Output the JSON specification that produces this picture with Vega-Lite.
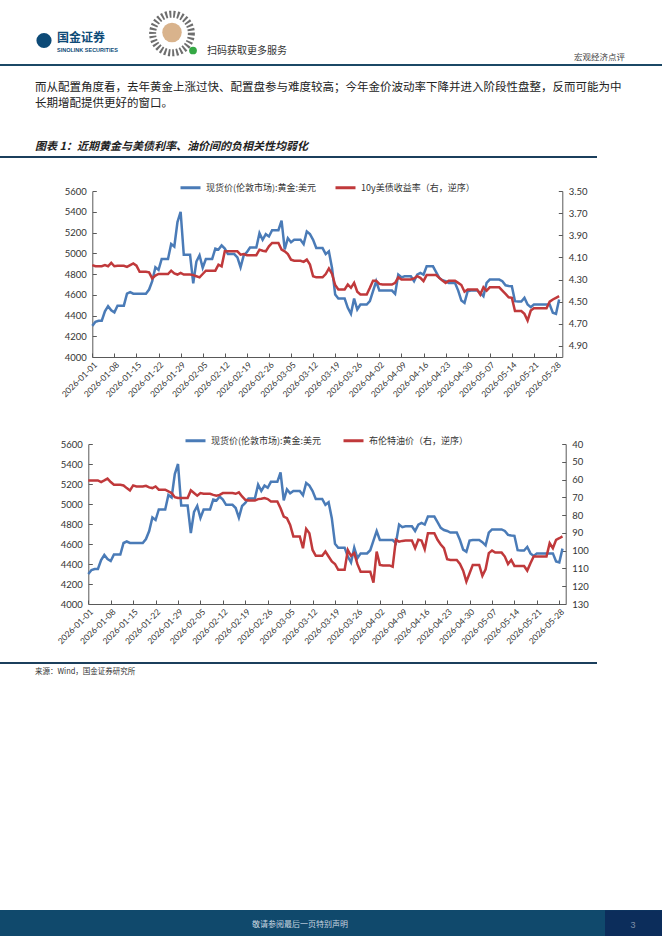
{
  "$schema": "https://vega.github.io/schema/vega-lite/v6.json",
  "background": "#ffffff",
  "padding": 0,
  "spacing": 0,
  "bounds": "flush",
  "datasets": {
    "prices": [
      {"date": "2026-01-01", "gold": 4300, "ust": 4.17, "brent": 60.5},
      {"date": "2026-01-02", "gold": 4340, "ust": 4.18, "brent": 60.5},
      {"date": "2026-01-03", "gold": 4350, "ust": 4.18, "brent": 60.5},
      {"date": "2026-01-04", "gold": 4350, "ust": 4.18, "brent": 60.5},
      {"date": "2026-01-05", "gold": 4440, "ust": 4.17, "brent": 61.4},
      {"date": "2026-01-06", "gold": 4490, "ust": 4.18, "brent": 60.5},
      {"date": "2026-01-07", "gold": 4450, "ust": 4.15, "brent": 59.5},
      {"date": "2026-01-08", "gold": 4430, "ust": 4.18, "brent": 61.4},
      {"date": "2026-01-09", "gold": 4495, "ust": 4.175, "brent": 62.9},
      {"date": "2026-01-10", "gold": 4495, "ust": 4.175, "brent": 62.9},
      {"date": "2026-01-11", "gold": 4495, "ust": 4.175, "brent": 62.9},
      {"date": "2026-01-12", "gold": 4610, "ust": 4.185, "brent": 63.3},
      {"date": "2026-01-13", "gold": 4625, "ust": 4.17, "brent": 64.8},
      {"date": "2026-01-14", "gold": 4610, "ust": 4.155, "brent": 66.1},
      {"date": "2026-01-15", "gold": 4610, "ust": 4.175, "brent": 63.3},
      {"date": "2026-01-16", "gold": 4610, "ust": 4.23, "brent": 63.9},
      {"date": "2026-01-17", "gold": 4610, "ust": 4.23, "brent": 63.9},
      {"date": "2026-01-18", "gold": 4610, "ust": 4.23, "brent": 63.9},
      {"date": "2026-01-19", "gold": 4650, "ust": 4.235, "brent": 63.5},
      {"date": "2026-01-20", "gold": 4730, "ust": 4.29, "brent": 64.4},
      {"date": "2026-01-21", "gold": 4865, "ust": 4.265, "brent": 64.8},
      {"date": "2026-01-22", "gold": 4840, "ust": 4.25, "brent": 63.9},
      {"date": "2026-01-23", "gold": 4945, "ust": 4.25, "brent": 65.7},
      {"date": "2026-01-24", "gold": 4945, "ust": 4.25, "brent": 65.7},
      {"date": "2026-01-25", "gold": 4945, "ust": 4.25, "brent": 65.7},
      {"date": "2026-01-26", "gold": 5090, "ust": 4.22, "brent": 66.7},
      {"date": "2026-01-27", "gold": 5065, "ust": 4.245, "brent": 67.6},
      {"date": "2026-01-28", "gold": 5300, "ust": 4.255, "brent": 69.9},
      {"date": "2026-01-29", "gold": 5400, "ust": 4.24, "brent": 70.4},
      {"date": "2026-01-30", "gold": 4985, "ust": 4.255, "brent": 70.4},
      {"date": "2026-01-31", "gold": 4985, "ust": 4.255, "brent": 70.4},
      {"date": "2026-02-01", "gold": 4985, "ust": 4.255, "brent": 70.4},
      {"date": "2026-02-02", "gold": 4710, "ust": 4.26, "brent": 66.1},
      {"date": "2026-02-03", "gold": 4920, "ust": 4.27, "brent": 67.6},
      {"date": "2026-02-04", "gold": 4980, "ust": 4.28, "brent": 69.1},
      {"date": "2026-02-05", "gold": 4860, "ust": 4.25, "brent": 67.6},
      {"date": "2026-02-06", "gold": 4945, "ust": 4.22, "brent": 68},
      {"date": "2026-02-07", "gold": 4945, "ust": 4.22, "brent": 68},
      {"date": "2026-02-08", "gold": 4945, "ust": 4.22, "brent": 68},
      {"date": "2026-02-09", "gold": 5045, "ust": 4.22, "brent": 68.6},
      {"date": "2026-02-10", "gold": 5035, "ust": 4.165, "brent": 69.1},
      {"date": "2026-02-11", "gold": 5075, "ust": 4.18, "brent": 68.6},
      {"date": "2026-02-12", "gold": 5045, "ust": 4.045, "brent": 67.6},
      {"date": "2026-02-13", "gold": 4992, "ust": 4.045, "brent": 67.6},
      {"date": "2026-02-14", "gold": 4992, "ust": 4.045, "brent": 67.6},
      {"date": "2026-02-15", "gold": 4992, "ust": 4.045, "brent": 67.6},
      {"date": "2026-02-16", "gold": 4960, "ust": 4.045, "brent": 68},
      {"date": "2026-02-17", "gold": 4864, "ust": 4.075, "brent": 67.2},
      {"date": "2026-02-18", "gold": 4980, "ust": 4.07, "brent": 69.5},
      {"date": "2026-02-19", "gold": 5010, "ust": 4.08, "brent": 71.4},
      {"date": "2026-02-20", "gold": 5056, "ust": 4.08, "brent": 71.8},
      {"date": "2026-02-21", "gold": 5056, "ust": 4.08, "brent": 71.8},
      {"date": "2026-02-22", "gold": 5056, "ust": 4.08, "brent": 71.8},
      {"date": "2026-02-23", "gold": 5194, "ust": 4.03, "brent": 71},
      {"date": "2026-02-24", "gold": 5130, "ust": 4.04, "brent": 70.8},
      {"date": "2026-02-25", "gold": 5184, "ust": 4.045, "brent": 70.4},
      {"date": "2026-02-26", "gold": 5162, "ust": 4.0, "brent": 71},
      {"date": "2026-02-27", "gold": 5222, "ust": 3.97, "brent": 72.3},
      {"date": "2026-02-28", "gold": 5222, "ust": 3.97, "brent": 72.3},
      {"date": "2026-03-01", "gold": 5222, "ust": 3.97, "brent": 72.3},
      {"date": "2026-03-02", "gold": 5315, "ust": 4.03, "brent": 76.1},
      {"date": "2026-03-03", "gold": 5037, "ust": 4.045, "brent": 80.8},
      {"date": "2026-03-04", "gold": 5146, "ust": 4.07, "brent": 81.7},
      {"date": "2026-03-05", "gold": 5107, "ust": 4.12, "brent": 85.5},
      {"date": "2026-03-06", "gold": 5130, "ust": 4.13, "brent": 92},
      {"date": "2026-03-07", "gold": 5130, "ust": 4.13, "brent": 92},
      {"date": "2026-03-08", "gold": 5130, "ust": 4.13, "brent": 92},
      {"date": "2026-03-09", "gold": 5088, "ust": 4.14, "brent": 98.6},
      {"date": "2026-03-10", "gold": 5210, "ust": 4.12, "brent": 87.7},
      {"date": "2026-03-11", "gold": 5184, "ust": 4.165, "brent": 90.2},
      {"date": "2026-03-12", "gold": 5130, "ust": 4.27, "brent": 99.6},
      {"date": "2026-03-13", "gold": 5050, "ust": 4.28, "brent": 102.9},
      {"date": "2026-03-14", "gold": 5050, "ust": 4.28, "brent": 102.9},
      {"date": "2026-03-15", "gold": 5050, "ust": 4.28, "brent": 102.9},
      {"date": "2026-03-16", "gold": 4992, "ust": 4.25, "brent": 100.5},
      {"date": "2026-03-17", "gold": 5018, "ust": 4.2, "brent": 103.3},
      {"date": "2026-03-18", "gold": 4858, "ust": 4.25, "brent": 106.1},
      {"date": "2026-03-19", "gold": 4602, "ust": 4.35, "brent": 107.5},
      {"date": "2026-03-20", "gold": 4563, "ust": 4.39, "brent": 110.8},
      {"date": "2026-03-21", "gold": 4563, "ust": 4.39, "brent": 110.8},
      {"date": "2026-03-22", "gold": 4563, "ust": 4.39, "brent": 110.8},
      {"date": "2026-03-23", "gold": 4474, "ust": 4.345, "brent": 99.6},
      {"date": "2026-03-24", "gold": 4416, "ust": 4.375, "brent": 102.9},
      {"date": "2026-03-25", "gold": 4563, "ust": 4.33, "brent": 101.4},
      {"date": "2026-03-26", "gold": 4458, "ust": 4.41, "brent": 107.6},
      {"date": "2026-03-27", "gold": 4506, "ust": 4.435, "brent": 111.8},
      {"date": "2026-03-28", "gold": 4506, "ust": 4.435, "brent": 111.8},
      {"date": "2026-03-29", "gold": 4506, "ust": 4.435, "brent": 111.8},
      {"date": "2026-03-30", "gold": 4538, "ust": 4.375, "brent": 111.8},
      {"date": "2026-03-31", "gold": 4634, "ust": 4.31, "brent": 118},
      {"date": "2026-04-01", "gold": 4730, "ust": 4.31, "brent": 100.5},
      {"date": "2026-04-02", "gold": 4640, "ust": 4.34, "brent": 108},
      {"date": "2026-04-03", "gold": 4640, "ust": 4.345, "brent": 108.3},
      {"date": "2026-04-04", "gold": 4640, "ust": 4.345, "brent": 108.3},
      {"date": "2026-04-05", "gold": 4640, "ust": 4.345, "brent": 108.3},
      {"date": "2026-04-06", "gold": 4640, "ust": 4.345, "brent": 109},
      {"date": "2026-04-07", "gold": 4608, "ust": 4.33, "brent": 93.9},
      {"date": "2026-04-08", "gold": 4794, "ust": 4.28, "brent": 94.9},
      {"date": "2026-04-09", "gold": 4768, "ust": 4.3, "brent": 94.5},
      {"date": "2026-04-10", "gold": 4778, "ust": 4.3, "brent": 94.3},
      {"date": "2026-04-11", "gold": 4778, "ust": 4.3, "brent": 94.3},
      {"date": "2026-04-12", "gold": 4778, "ust": 4.3, "brent": 94.3},
      {"date": "2026-04-13", "gold": 4730, "ust": 4.29, "brent": 98.6},
      {"date": "2026-04-14", "gold": 4794, "ust": 4.27, "brent": 93.9},
      {"date": "2026-04-15", "gold": 4810, "ust": 4.285, "brent": 94.3},
      {"date": "2026-04-16", "gold": 4794, "ust": 4.315, "brent": 99.2},
      {"date": "2026-04-17", "gold": 4874, "ust": 4.26, "brent": 90.2},
      {"date": "2026-04-18", "gold": 4874, "ust": 4.26, "brent": 90.2},
      {"date": "2026-04-19", "gold": 4874, "ust": 4.26, "brent": 90.2},
      {"date": "2026-04-20", "gold": 4819, "ust": 4.26, "brent": 93.9},
      {"date": "2026-04-21", "gold": 4762, "ust": 4.285, "brent": 96.5},
      {"date": "2026-04-22", "gold": 4740, "ust": 4.31, "brent": 98.6},
      {"date": "2026-04-23", "gold": 4730, "ust": 4.33, "brent": 104.8},
      {"date": "2026-04-24", "gold": 4714, "ust": 4.31, "brent": 105.2},
      {"date": "2026-04-25", "gold": 4714, "ust": 4.31, "brent": 105.2},
      {"date": "2026-04-26", "gold": 4714, "ust": 4.31, "brent": 105.2},
      {"date": "2026-04-27", "gold": 4640, "ust": 4.33, "brent": 107.5},
      {"date": "2026-04-28", "gold": 4544, "ust": 4.35, "brent": 111.2},
      {"date": "2026-04-29", "gold": 4522, "ust": 4.41, "brent": 117.4},
      {"date": "2026-04-30", "gold": 4634, "ust": 4.39, "brent": 112.7},
      {"date": "2026-05-01", "gold": 4640, "ust": 4.39, "brent": 108},
      {"date": "2026-05-02", "gold": 4640, "ust": 4.39, "brent": 108},
      {"date": "2026-05-03", "gold": 4640, "ust": 4.39, "brent": 108},
      {"date": "2026-05-04", "gold": 4618, "ust": 4.435, "brent": 114.2},
      {"date": "2026-05-05", "gold": 4586, "ust": 4.37, "brent": 110.5},
      {"date": "2026-05-06", "gold": 4714, "ust": 4.4, "brent": 101.4},
      {"date": "2026-05-07", "gold": 4746, "ust": 4.37, "brent": 99.9},
      {"date": "2026-05-08", "gold": 4746, "ust": 4.37, "brent": 101.1},
      {"date": "2026-05-09", "gold": 4746, "ust": 4.37, "brent": 101.1},
      {"date": "2026-05-10", "gold": 4746, "ust": 4.37, "brent": 101.1},
      {"date": "2026-05-11", "gold": 4730, "ust": 4.4, "brent": 103.3},
      {"date": "2026-05-12", "gold": 4691, "ust": 4.43, "brent": 107.5},
      {"date": "2026-05-13", "gold": 4685, "ust": 4.46, "brent": 105.2},
      {"date": "2026-05-14", "gold": 4682, "ust": 4.465, "brent": 108.6},
      {"date": "2026-05-15", "gold": 4538, "ust": 4.585, "brent": 108.6},
      {"date": "2026-05-16", "gold": 4535, "ust": 4.585, "brent": 108.6},
      {"date": "2026-05-17", "gold": 4535, "ust": 4.585, "brent": 108.6},
      {"date": "2026-05-18", "gold": 4570, "ust": 4.61, "brent": 111.2},
      {"date": "2026-05-19", "gold": 4506, "ust": 4.67, "brent": 107.1},
      {"date": "2026-05-20", "gold": 4480, "ust": 4.58, "brent": 103.3},
      {"date": "2026-05-21", "gold": 4506, "ust": 4.56, "brent": 103.3},
      {"date": "2026-05-22", "gold": 4506, "ust": 4.56, "brent": 103.3},
      {"date": "2026-05-23", "gold": 4506, "ust": 4.56, "brent": 103.3},
      {"date": "2026-05-24", "gold": 4506, "ust": 4.56, "brent": 103.3},
      {"date": "2026-05-25", "gold": 4506, "ust": 4.56, "brent": 95.8},
      {"date": "2026-05-26", "gold": 4506, "ust": 4.5, "brent": 98.6},
      {"date": "2026-05-27", "gold": 4426, "ust": 4.48, "brent": 93.9},
      {"date": "2026-05-28", "gold": 4416, "ust": 4.465, "brent": 93},
      {"date": "2026-05-29", "gold": 4554, "ust": 4.45, "brent": 92}
    ]
  },
  "vconcat": [
    {
      "width": 662,
      "height": 61,
      "layer": [
        {"data": {"values": [{"part": "logo"}]}, "mark": {"type": "point", "shape": "circle", "filled": true, "size": 230, "color": "#0d4a77", "opacity": 1, "xOffset": -287, "yOffset": 7}},
        {"data": {"values": [{"part": "qr"}]}, "mark": {"type": "point", "shape": "circle", "filled": false, "size": 1500, "stroke": "#555555", "strokeWidth": 7, "strokeDash": [2, 2], "opacity": 0.85, "xOffset": -159, "yOffset": 0}},
        {"data": {"values": [{"part": "qr"}]}, "mark": {"type": "point", "shape": "circle", "filled": true, "size": 380, "color": "#d9b38c", "opacity": 1, "xOffset": -159, "yOffset": -1}},
        {"data": {"values": [{"part": "qr"}]}, "mark": {"type": "point", "shape": "circle", "filled": true, "size": 60, "color": "#35a845", "opacity": 1, "xOffset": -138, "yOffset": 17}},
        {"data": {"values": [{"label": "国金证券"}]}, "mark": {"type": "text", "align": "left", "baseline": "middle", "fontSize": 12, "fontWeight": "bold", "color": "#0d4a77", "dx": -274, "dy": 4.5}, "encoding": {"text": {"field": "label"}}},
        {"data": {"values": [{"label": "SINOLINK SECURITIES"}]}, "mark": {"type": "text", "align": "left", "baseline": "middle", "font": "Liberation Sans", "fontSize": 5.5, "fontWeight": "bold", "color": "#0d4a77", "dx": -274, "dy": 16}, "encoding": {"text": {"field": "label"}}},
        {"data": {"values": [{"label": "扫码获取更多服务"}]}, "mark": {"type": "text", "align": "left", "baseline": "middle", "fontSize": 10, "color": "#333333", "dx": -124, "dy": 17.5}, "encoding": {"text": {"field": "label"}}},
        {"data": {"values": [{"label": "宏观经济点评"}]}, "mark": {"type": "text", "align": "right", "baseline": "middle", "fontSize": 8.5, "color": "#444444", "dx": 294, "dy": 23.5}, "encoding": {"text": {"field": "label"}}}
      ]
    },
    {
      "width": 662,
      "height": 2,
      "data": {"values": [{"part": "rule"}]},
      "mark": {"type": "rect", "color": "#1b4866"}
    },
    {
      "width": 662,
      "height": 90,
      "layer": [
        {"data": {"values": [{"label": "而从配置角度看，去年黄金上涨过快、配置盘参与难度较高；今年金价波动率下降并进入阶段性盘整，反而可能为中"}]}, "mark": {"type": "text", "align": "left", "baseline": "middle", "fontSize": 11.5, "color": "#222222", "dx": -296, "dy": -23}, "encoding": {"text": {"field": "label"}}},
        {"data": {"values": [{"label": "长期增配提供更好的窗口。"}]}, "mark": {"type": "text", "align": "left", "baseline": "middle", "fontSize": 11.5, "color": "#222222", "dx": -296, "dy": -7}, "encoding": {"text": {"field": "label"}}},
        {"data": {"values": [{"label": "图表 1：近期黄金与美债利率、油价间的负相关性均弱化"}]}, "mark": {"type": "text", "align": "left", "baseline": "middle", "fontSize": 11, "fontWeight": "bold", "fontStyle": "italic", "color": "#222222", "dx": -296, "dy": 36}, "encoding": {"text": {"field": "label"}}}
      ]
    },
    {
      "width": 562,
      "height": 2,
      "data": {"values": [{"part": "rule"}]},
      "mark": {"type": "rect", "color": "#1b3f5c", "xOffset": 35, "x2Offset": 35}
    },
    {"width": 662, "height": 33, "data": {"values": []}, "mark": "point"},
    {
      "width": 562.3,
      "height": 166,
      "data": {"name": "prices"},
      "encoding": {
        "x": {
          "field": "date",
          "type": "temporal",
          "scale": {"type": "utc", "domain": [{"year": 2026, "month": 1, "date": 1, "utc": true}, {"year": 2026, "month": 5, "date": 30, "utc": true}], "range": [92.3, 562.3]},
          "axis": {
            "title": null,
            "format": "%Y-%m-%d",
            "labelAngle": -45,
            "labelFontSize": 8.5,
            "labelOverlap": false,
            "labelSeparation": 0,
            "labelBound": false,
            "labelFlush": false,
            "tickSize": -4,
            "labelPadding": 7,
            "values": [
              {"year": 2026, "month": 1, "date": 1, "utc": true},
              {"year": 2026, "month": 1, "date": 8, "utc": true},
              {"year": 2026, "month": 1, "date": 15, "utc": true},
              {"year": 2026, "month": 1, "date": 22, "utc": true},
              {"year": 2026, "month": 1, "date": 29, "utc": true},
              {"year": 2026, "month": 2, "date": 5, "utc": true},
              {"year": 2026, "month": 2, "date": 12, "utc": true},
              {"year": 2026, "month": 2, "date": 19, "utc": true},
              {"year": 2026, "month": 2, "date": 26, "utc": true},
              {"year": 2026, "month": 3, "date": 5, "utc": true},
              {"year": 2026, "month": 3, "date": 12, "utc": true},
              {"year": 2026, "month": 3, "date": 19, "utc": true},
              {"year": 2026, "month": 3, "date": 26, "utc": true},
              {"year": 2026, "month": 4, "date": 2, "utc": true},
              {"year": 2026, "month": 4, "date": 9, "utc": true},
              {"year": 2026, "month": 4, "date": 16, "utc": true},
              {"year": 2026, "month": 4, "date": 23, "utc": true},
              {"year": 2026, "month": 4, "date": 30, "utc": true},
              {"year": 2026, "month": 5, "date": 7, "utc": true},
              {"year": 2026, "month": 5, "date": 14, "utc": true},
              {"year": 2026, "month": 5, "date": 21, "utc": true},
              {"year": 2026, "month": 5, "date": 28, "utc": true}
            ]
          }
        }
      },
      "layer": [
        {
          "mark": {"type": "line", "strokeWidth": 2.5},
          "encoding": {
            "y": {
              "field": "gold",
              "type": "quantitative",
              "scale": {"domain": [4000, 5600], "zero": false, "nice": false},
              "axis": {"title": null, "orient": "left", "offset": -92.3, "tickSize": -4, "labelPadding": 10, "values": [4000, 4200, 4400, 4600, 4800, 5000, 5200, 5400, 5600], "format": "d"}
            },
            "color": {
              "datum": "现货价(伦敦市场):黄金:美元",
              "type": "nominal",
              "scale": {"domain": ["现货价(伦敦市场):黄金:美元", "10y美债收益率（右，逆序）"], "range": ["#4a7bb7", "#c0393b"]},
              "legend": {"title": null, "orient": "none", "legendX": 179, "legendY": -15, "direction": "horizontal", "symbolType": "stroke", "symbolSize": 400, "symbolStrokeWidth": 3, "labelFontSize": 9, "labelColor": "#333333", "labelFont": "Noto Sans CJK SC", "columnPadding": 12, "labelOffset": 4, "padding": 0, "labelLimit": 300}
            }
          }
        },
        {
          "mark": {"type": "line", "strokeWidth": 2.5},
          "encoding": {
            "y": {
              "field": "ust",
              "type": "quantitative",
              "scale": {"domain": [3.5, 5.0], "reverse": true, "zero": false, "nice": false},
              "axis": {"title": null, "orient": "right", "tickSize": -4, "labelPadding": 10, "values": [3.5, 3.7, 3.9, 4.1, 4.3, 4.5, 4.7, 4.9], "format": ".2f"}
            },
            "color": {"datum": "10y美债收益率（右，逆序）", "type": "nominal"}
          }
        }
      ],
      "resolve": {"scale": {"y": "independent"}}
    },
    {"width": 662, "height": 87, "data": {"values": []}, "mark": "point"},
    {
      "width": 565.7,
      "height": 160,
      "data": {"name": "prices"},
      "encoding": {
        "x": {
          "field": "date",
          "type": "temporal",
          "scale": {"type": "utc", "domain": [{"year": 2026, "month": 1, "date": 1, "utc": true}, {"year": 2026, "month": 5, "date": 30, "utc": true}], "range": [88.3, 565.7]},
          "axis": {
            "title": null,
            "format": "%Y-%m-%d",
            "labelAngle": -45,
            "labelFontSize": 8.5,
            "labelOverlap": false,
            "labelSeparation": 0,
            "labelBound": false,
            "labelFlush": false,
            "tickSize": -4,
            "labelPadding": 7,
            "values": [
              {"year": 2026, "month": 1, "date": 1, "utc": true},
              {"year": 2026, "month": 1, "date": 8, "utc": true},
              {"year": 2026, "month": 1, "date": 15, "utc": true},
              {"year": 2026, "month": 1, "date": 22, "utc": true},
              {"year": 2026, "month": 1, "date": 29, "utc": true},
              {"year": 2026, "month": 2, "date": 5, "utc": true},
              {"year": 2026, "month": 2, "date": 12, "utc": true},
              {"year": 2026, "month": 2, "date": 19, "utc": true},
              {"year": 2026, "month": 2, "date": 26, "utc": true},
              {"year": 2026, "month": 3, "date": 5, "utc": true},
              {"year": 2026, "month": 3, "date": 12, "utc": true},
              {"year": 2026, "month": 3, "date": 19, "utc": true},
              {"year": 2026, "month": 3, "date": 26, "utc": true},
              {"year": 2026, "month": 4, "date": 2, "utc": true},
              {"year": 2026, "month": 4, "date": 9, "utc": true},
              {"year": 2026, "month": 4, "date": 16, "utc": true},
              {"year": 2026, "month": 4, "date": 23, "utc": true},
              {"year": 2026, "month": 4, "date": 30, "utc": true},
              {"year": 2026, "month": 5, "date": 7, "utc": true},
              {"year": 2026, "month": 5, "date": 14, "utc": true},
              {"year": 2026, "month": 5, "date": 21, "utc": true},
              {"year": 2026, "month": 5, "date": 28, "utc": true}
            ]
          }
        }
      },
      "layer": [
        {
          "mark": {"type": "line", "strokeWidth": 2.5},
          "encoding": {
            "y": {
              "field": "gold",
              "type": "quantitative",
              "scale": {"domain": [4000, 5600], "zero": false, "nice": false},
              "axis": {"title": null, "orient": "left", "offset": -88.3, "tickSize": -4, "labelPadding": 10, "values": [4000, 4200, 4400, 4600, 4800, 5000, 5200, 5400, 5600], "format": "d"}
            },
            "color": {
              "datum": "现货价(伦敦市场):黄金:美元",
              "type": "nominal",
              "scale": {"domain": ["现货价(伦敦市场):黄金:美元", "布伦特油价（右，逆序）"], "range": ["#4a7bb7", "#c0393b"]},
              "legend": {"title": null, "orient": "none", "legendX": 184, "legendY": -15, "direction": "horizontal", "symbolType": "stroke", "symbolSize": 400, "symbolStrokeWidth": 3, "labelFontSize": 9, "labelColor": "#333333", "labelFont": "Noto Sans CJK SC", "columnPadding": 15, "labelOffset": 4, "padding": 0, "labelLimit": 300}
            }
          }
        },
        {
          "mark": {"type": "line", "strokeWidth": 2.5},
          "encoding": {
            "y": {
              "field": "brent",
              "type": "quantitative",
              "scale": {"domain": [40, 130], "reverse": true, "zero": false, "nice": false},
              "axis": {"title": null, "orient": "right", "tickSize": -4, "labelPadding": 10, "values": [40, 50, 60, 70, 80, 90, 100, 110, 120, 130], "format": "d"}
            },
            "color": {"datum": "布伦特油价（右，逆序）", "type": "nominal"}
          }
        }
      ],
      "resolve": {"scale": {"y": "independent"}}
    },
    {"width": 662, "height": 58, "data": {"values": []}, "mark": "point"},
    {
      "width": 562,
      "height": 2,
      "data": {"values": [{"part": "rule"}]},
      "mark": {"type": "rect", "color": "#1b3f5c", "xOffset": 35, "x2Offset": 35}
    },
    {
      "width": 662,
      "height": 16,
      "data": {"values": [{"label": "来源：Wind，国金证券研究所"}]},
      "mark": {"type": "text", "align": "left", "baseline": "middle", "fontSize": 7.5, "color": "#333333", "dx": -296, "dy": 0},
      "encoding": {"text": {"field": "label"}}
    },
    {"width": 662, "height": 230, "data": {"values": []}, "mark": "point"},
    {
      "width": 662,
      "height": 29,
      "layer": [
        {"data": {"values": [{"part": "bar"}]}, "mark": {"type": "rect", "color": "#10496c"}},
        {"data": {"values": [{"part": "page"}]}, "mark": {"type": "point", "shape": "M-1,-0.5H1V0.5H-1Z", "filled": true, "size": 3249, "color": "#0c2d5b", "opacity": 1, "xOffset": 302.5}},
        {"data": {"values": [{"label": "敬请参阅最后一页特别声明"}]}, "mark": {"type": "text", "align": "center", "baseline": "middle", "fontSize": 8, "color": "#c9d6e0", "dx": -31}, "encoding": {"text": {"field": "label"}}},
        {"data": {"values": [{"label": "3"}]}, "mark": {"type": "text", "align": "center", "baseline": "middle", "font": "Liberation Sans", "fontSize": 9, "color": "#7f8fa8", "dx": 302}, "encoding": {"text": {"field": "label"}}}
      ]
    }
  ],
  "resolve": {
    "scale": {"x": "independent", "y": "independent", "color": "independent"},
    "legend": {"color": "independent"}
  },
  "config": {
    "view": {"stroke": null},
    "font": "Noto Sans CJK SC",
    "axis": {
      "grid": false,
      "domainColor": "#595959",
      "tickColor": "#595959",
      "labelColor": "#333333",
      "labelFont": "Lato",
      "labelFontSize": 9.5,
      "tickSize": 4,
      "labelPadding": 2
    }
  }
}
